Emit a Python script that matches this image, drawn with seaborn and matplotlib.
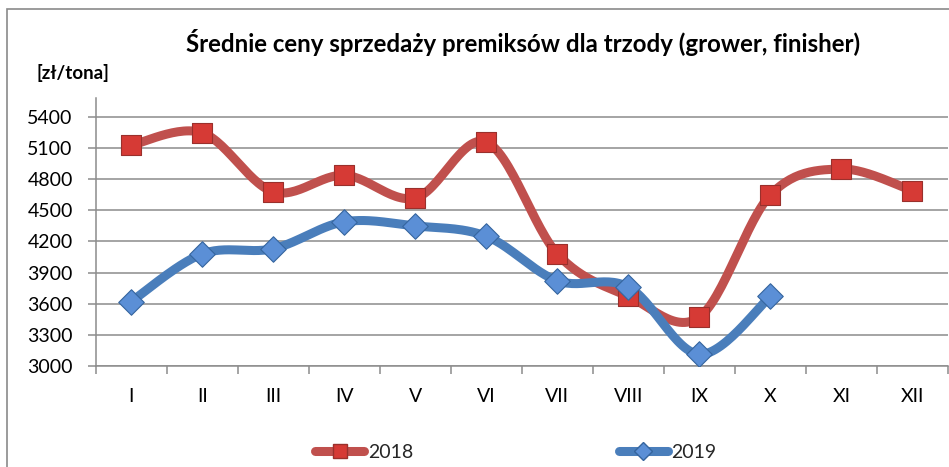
import numpy as np
import pandas as pd
import matplotlib
matplotlib.use("Agg")
import matplotlib.pyplot as plt
import seaborn as sns
from matplotlib.lines import Line2D
from matplotlib.patches import Rectangle

months = ["I", "II", "III", "IV", "V", "VI", "VII", "VIII", "IX", "X", "XI", "XII"]
v2018 = [5130, 5250, 4680, 4840, 4620, 5160, 4080, 3670, 3470, 4650, 4900, 4690]
v2019 = [3620, 4080, 4130, 4390, 4350, 4250, 3820, 3760, 3110, 3670, None, None]
yticks = [3000, 3300, 3600, 3900, 4200, 4500, 4800, 5100, 5400]

sns.set_theme(style="white")
plt.rcParams['font.family'] = ['Lato', 'DejaVu Sans']

RED = "#C0504D"
RED_M = "#D63A35"
RED_E = "#9A302C"
BLUE = "#4A7EBB"
BLUE_M = "#5B8FD6"
BLUE_E = "#35659E"
GRID = "#8C8C8C"

rows = []
for i, m in enumerate(months):
    rows.append({"x": i, "month": m, "year": "2018", "value": v2018[i]})
    if v2019[i] is not None:
        rows.append({"x": i, "month": m, "year": "2019", "value": v2019[i]})
df = pd.DataFrame(rows)


def smooth(xs, ys, n=30):
    """Excel-like smoothed line drawing (cubic Bezier, Catmull-Rom controls)."""
    P = np.column_stack([xs, ys]).astype(float)
    out = []
    for k in range(len(P) - 1):
        p0 = P[k - 1] if k > 0 else P[k]
        p1 = P[k]
        p2 = P[k + 1]
        p3 = P[k + 2] if k + 2 < len(P) else P[k + 1]
        b1 = p1 + (p2 - p0) / 6.0
        b2 = p2 - (p3 - p1) / 6.0
        t = np.linspace(0, 1, n)[:, None]
        seg = ((1 - t) ** 3) * p1 + 3 * ((1 - t) ** 2) * t * b1 + 3 * (1 - t) * t ** 2 * b2 + t ** 3 * p2
        out.append(seg if k == 0 else seg[1:])
    c = np.vstack(out)
    return c[:, 0], c[:, 1]


fig = plt.figure(figsize=(9.49, 4.67), dpi=100)
ax = fig.add_axes([95.7 / 949, 101.3 / 467, (948 - 95.7) / 949, (365.7 - 98.3) / 467])

# chart border
fig.patches.append(Rectangle((7 / 949, -0.1), 1.2, (467 - 9) / 467 + 0.1,
                             transform=fig.transFigure, fill=False,
                             edgecolor="#8A8A8A", linewidth=1.2))

for yv in yticks:
    ax.axhline(yv, color=GRID, linewidth=1.1, zorder=0)

for yr, sub in df.groupby("year"):
    lc = RED if yr == "2018" else BLUE
    sx, sy = smooth(sub["x"].values, sub["value"].values)
    ax.plot(sx, sy, color=lc, linewidth=6.5, solid_capstyle="round", zorder=2 if yr == "2018" else 3)

sub18 = df[df.year == "2018"]
sub19 = df[df.year == "2019"]
sns.scatterplot(data=sub18, x="x", y="value", marker="s", s=14.5 ** 2, color=RED_M,
                edgecolor=RED_E, linewidth=0.8, ax=ax, zorder=4, legend=False)
sns.scatterplot(data=sub19, x="x", y="value", marker="D", s=13 ** 2, color=BLUE_M,
                edgecolor=BLUE_E, linewidth=0.8, ax=ax, zorder=5, legend=False)

ax.set_xlim(-0.5, 11.5)
ax.set_ylim(3000, 5583)
ax.set_yticks(yticks)
ax.set_yticklabels([str(v) for v in yticks], fontsize=14, color="#000000")
ax.set_xticks(np.arange(-0.5, 12, 1.0))
ax.set_xticklabels([])
ax.set_xticks(np.arange(12), minor=True)
ax.set_xticklabels(months, minor=True, fontsize=14, color="#000000")
ax.tick_params(axis="x", which="major", length=5.5, width=1.1, color=GRID, direction="out", bottom=True)
ax.tick_params(axis="x", which="minor", length=0, pad=16)
ax.tick_params(axis="y", length=5.5, width=1.1, color=GRID, direction="out", left=True, pad=11)
ax.set_xlabel("")
ax.set_ylabel("")

for s in ["top", "right"]:
    ax.spines[s].set_visible(False)
for s in ["left", "bottom"]:
    ax.spines[s].set_color(GRID)
    ax.spines[s].set_linewidth(1.1)
ax.set_facecolor("none")

fig.text(523 / 949, 1 - 42 / 467, "Średnie ceny sprzedaży premiksów dla trzody (grower, finisher)",
         ha="center", va="center", fontsize=17.3, fontweight="bold", color="#000000")
fig.text(37 / 949, 1 - 73 / 467, "[zł/tona]", ha="left", va="center", fontsize=13.5,
         fontweight="bold", color="#000000")

h1 = Line2D([], [], color=RED, linewidth=6.5, solid_capstyle="round", marker="s",
            markersize=10, markerfacecolor=RED_M, markeredgecolor=RED_E)
h2 = Line2D([], [], color=BLUE, linewidth=6.5, solid_capstyle="round", marker="D",
            markersize=9, markerfacecolor=BLUE_M, markeredgecolor=BLUE_E)
fig.legend([h1, h2], ["2018", "2019"], loc="center", bbox_to_anchor=(516 / 949, 1 - 452 / 467),
           ncol=2, frameon=False, fontsize=14, handlelength=2.5, handletextpad=0.2,
           columnspacing=10.6)

fig.savefig("out.png", dpi=100, facecolor="white")
